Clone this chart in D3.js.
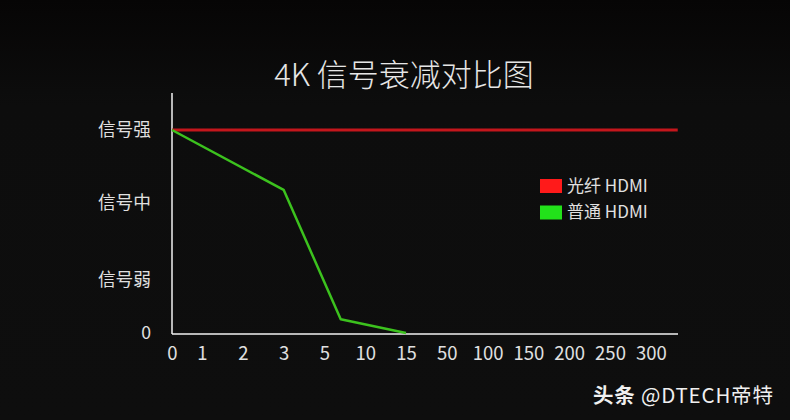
<!DOCTYPE html>
<html>
<head>
<meta charset="utf-8">
<script src="https://cdn.jsdelivr.net/npm/d3@7"></script>
<style>
  html, body { margin: 0; padding: 0; background: #0d0d0d; }
  svg { display: block; }
  text { font-family: "Noto Sans CJK SC", "Noto Sans", sans-serif; }
</style>
</head>
<body>
<svg id="chart" width="790" height="420"></svg>
<script>
// ---- data ----
const title = "4K 信号衰减对比图";
const xTickLabels = [0, 1, 2, 3, 5, 10, 15, 50, 100, 150, 200, 250, 300];
const yLevels = [0, 1, 2, 3];
const yLevelLabels = ["0", "信号弱", "信号中", "信号强"];
const seriesNames = ["光纤 HDMI", "普通 HDMI"];
const fiberX = [0, 333];
const fiberY = [3, 3];
const normalX = [0, 3, 7, 15];
const normalY = [3, 2.18, 0.26, 0];
const watermark = ["头条", " @DTECH帝特"];

// ---- layout ----
const W = 790, H = 420;
const plotLeft = 172, plotRight = 678, plotTop = 93, plotBottom = 334;
const firstStep = 30, step = 40.8;
const colors = ["#c4161c", "#3cc21e"];
const legendColors = ["#ff1a1a", "#22e21a"];

const svg = d3.select("#chart");

// subtle top vignette
const defs = svg.append("defs");
const grad = defs.append("linearGradient").attr("id", "bg").attr("x1", 0).attr("y1", 0).attr("x2", 0).attr("y2", 1);
grad.append("stop").attr("offset", "0%").attr("stop-color", "#060505");
grad.append("stop").attr("offset", "25%").attr("stop-color", "#0d0d0d");
grad.append("stop").attr("offset", "100%").attr("stop-color", "#0e0e0e");
svg.append("rect").attr("width", W).attr("height", H).attr("fill", "url(#bg)");

// piecewise x scale: categories placed at even steps, with the first gap shorter
const xScale = d3.scaleLinear()
  .domain(xTickLabels)
  .range(xTickLabels.map((d, i) => i === 0 ? plotLeft : plotLeft + firstStep + (i - 1) * step));

// piecewise y scale
const yScale = d3.scaleLinear()
  .domain(yLevels)
  .range([333, 280, 203, 130]);

// title
svg.append("text")
  .attr("x", 404).attr("y", 86)
  .attr("text-anchor", "middle")
  .attr("fill", "#e6e6e6")
  .attr("font-size", 31)
  .attr("font-weight", 300)
  .text(title);

// axes
const xAxis = d3.axisBottom(xScale)
  .tickValues(xTickLabels)
  .tickSize(0)
  .tickPadding(13)
  .tickFormat(d => String(d));
const gx = svg.append("g").attr("transform", `translate(0,${plotBottom})`).call(xAxis);
gx.select(".domain").remove();
gx.selectAll("text").attr("fill", "#e0e0e0").attr("font-size", 18.5)
  .attr("font-family", "\"Noto Sans CJK SC\", sans-serif");

const yAxis = d3.axisLeft(yScale)
  .tickValues(yLevels)
  .tickSize(0)
  .tickPadding(21)
  .tickFormat((d, i) => yLevelLabels[i]);
const gy = svg.append("g").attr("transform", `translate(${plotLeft},0)`).call(yAxis);
gy.select(".domain").remove();
gy.selectAll("text").attr("fill", "#e0e0e0").attr("font-size", 17.7);

// axis lines
svg.append("line").attr("x1", plotLeft).attr("x2", plotLeft).attr("y1", plotTop).attr("y2", plotBottom)
  .attr("stroke", "#f2f2f2").attr("stroke-width", 1.5);
svg.append("line").attr("x1", plotLeft).attr("x2", plotRight).attr("y1", plotBottom).attr("y2", plotBottom)
  .attr("stroke", "#f2f2f2").attr("stroke-width", 1.5);

// lines
const line = d3.line().x(d => xScale(d[0])).y(d => yScale(d[1]));
const fiber = fiberX.map((x, i) => [x, fiberY[i]]);
const normal = normalX.map((x, i) => [x, normalY[i]]);
svg.append("path").datum(fiber).attr("d", line)
  .attr("fill", "none").attr("stroke", colors[0]).attr("stroke-width", 3);
svg.append("path").datum(normal).attr("d", line)
  .attr("fill", "none").attr("stroke", colors[1]).attr("stroke-width", 2.5)
  .attr("stroke-linejoin", "round");

// legend
const lg = svg.append("g").attr("transform", "translate(540,179)");
seriesNames.forEach((name, i) => {
  const g = lg.append("g").attr("transform", `translate(0,${i * 26.5})`);
  g.append("rect").attr("width", 22).attr("height", 14).attr("fill", legendColors[i]);
  g.append("text").attr("x", 27).attr("y", 7).attr("dy", "0.35em")
    .attr("fill", "#e0e0e0").attr("font-size", 17).text(name);
});

// watermark
const wm = svg.append("text").attr("x", 593).attr("y", 403).attr("fill", "#f0f0f0")
  .attr("font-size", 20.5).attr("letter-spacing", 0.8);
wm.append("tspan").attr("font-weight", "bold").text(watermark[0]);
wm.append("tspan").text(watermark[1]);
</script>
</body>
</html>
